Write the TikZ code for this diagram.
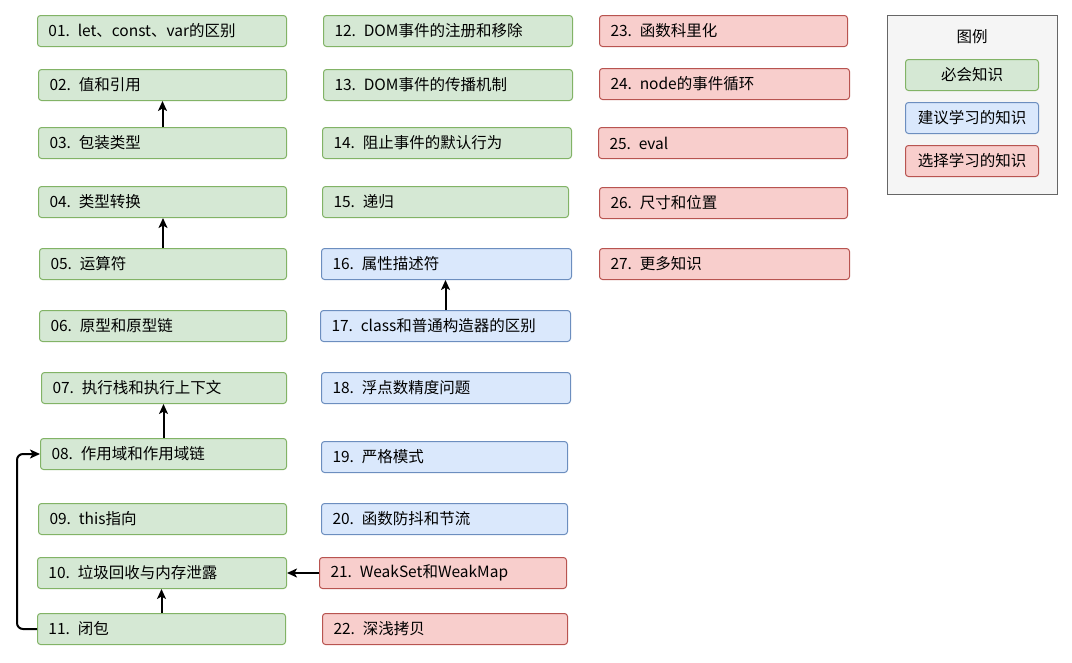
\documentclass[tikz,border=0pt]{standalone}
\usepackage{fontspec}
\setmainfont[WordSpace=0.3]{Noto Sans CJK SC}
\usetikzlibrary{positioning,arrows.meta}

\definecolor{mustfill}{HTML}{D5E8D4}
\definecolor{mustline}{HTML}{82B366}
\definecolor{sugfill}{HTML}{DAE8FC}
\definecolor{sugline}{HTML}{6C8EBF}
\definecolor{optfill}{HTML}{F8CECC}
\definecolor{optline}{HTML}{B85450}
\definecolor{legfill}{HTML}{F5F5F5}
\definecolor{legline}{HTML}{666666}

\tikzset{
  topic/.style={rounded corners=3pt, line width=1pt, minimum height=31pt,
    anchor=north west, align=left, inner xsep=11pt, text width=#1,
    font=\fontsize{15.5pt}{18pt}\selectfont},
  topic/.default=227pt,
  must/.style={topic=#1, fill=mustfill, draw=mustline},
  must/.default=227pt,
  sug/.style={topic=#1, fill=sugfill, draw=sugline},
  sug/.default=227pt,
  opt/.style={topic=#1, fill=optfill, draw=optline},
  opt/.default=227pt,
  key/.style={rounded corners=3pt, line width=1pt, minimum height=31pt,
    minimum width=133pt, anchor=north west, font=\fontsize{15.5pt}{18pt}\selectfont},
  link/.style={line width=2pt, -{Stealth[length=10pt,width=9pt,inset=2.5pt]}}
}

\begin{document}
\begin{tikzpicture}[x=1pt,y=-1pt]
    \useasboundingbox (0,0) rectangle (1072,662);

    % column 1
    \node[must] (n01) at (37,15) {01. let、const、var的区别};
    \node[must=226pt] (n02) at (38,69) {02. 值和引用};
    \node[must=226pt] (n03) at (38,127) {03. 包装类型};
    \node[must=226pt] (n04) at (38,186) {04. 类型转换};
    \node[must=225pt] (n05) at (39,248) {05. 运算符};
    \node[must=225pt] (n06) at (39,310) {06. 原型和原型链};
    \node[must=223pt] (n07) at (41,372) {07. 执行栈和执行上下文};
    \node[must=224pt] (n08) at (40,438) {08. 作用域和作用域链};
    \node[must=226pt] (n09) at (38,503) {09. this指向};
    \node[must] (n10) at (37,557) {10. 垃圾回收与内存泄露};
    \node[must=226pt] (n11) at (37,613) {11. 闭包};

    % column 2
    \node[must] (n12) at (323,15) {12. DOM事件的注册和移除};
    \node[must] (n13) at (323,69) {13. DOM事件的传播机制};
    \node[must] (n14) at (322,127) {14. 阻止事件的默认行为};
    \node[must=224pt] (n15) at (322,186) {15. 递归};
    \node[sug=228pt] (n16) at (321,248) {16. 属性描述符};
    \node[sug=228pt] (n17) at (320,310) {17. class和普通构造器的区别};
    \node[sug] (n18) at (321,372) {18. 浮点数精度问题};
    \node[sug=224pt] (n19) at (321,441) {19. 严格模式};
    \node[sug=224pt] (n20) at (321,503) {20. 函数防抖和节流};
    \node[opt=225pt] (n21) at (319,557) {21. WeakSet和WeakMap};
    \node[opt=223pt] (n22) at (322,613) {22. 深浅拷贝};

    % column 3
    \node[opt=226pt] (n23) at (599,15) {23. 函数科里化};
    \node[opt=228pt] (n24) at (599,68) {24. node的事件循环};
    \node[opt] (n25) at (598,127) {25. eval};
    \node[opt=226pt] (n26) at (599,187) {26. 尺寸和位置};
    \node[opt=228pt] (n27) at (599,248) {27. 更多知识};

    % legend
    \node[draw=legline, fill=legfill, line width=1pt, minimum width=170pt,
      minimum height=179pt, anchor=north west] (legend) at (887,15) {};
    \node[font=\fontsize{15.5pt}{18pt}\selectfont] (legtitle) at (972,37) {图例};
    \node[key, fill=mustfill, draw=mustline] (keymust) at (905,59) {必会知识};
    \node[key, fill=sugfill, draw=sugline] (keysug) at (905,102) {建议学习的知识};
    \node[key, fill=optfill, draw=optline] (keyopt) at (905,145) {选择学习的知识};

    % arrows
    \draw[link] (n03.north) -- (n03.north |- n02.south);
    \draw[link] (n05.north) -- (n05.north |- n04.south);
    \draw[link] (n08.north) -- (n08.north |- n07.south);
    \draw[link] (n11.north) -- (n11.north |- n10.south);
    \draw[link] (n17.north) -- (n17.north |- n16.south);
    \draw[link] (n21.west) -- (n21.west -| n10.east);
    \draw[link, rounded corners=6pt] (n11.west) -- ++(-20,0) |- (n08.west);
\end{tikzpicture}
\end{document}
